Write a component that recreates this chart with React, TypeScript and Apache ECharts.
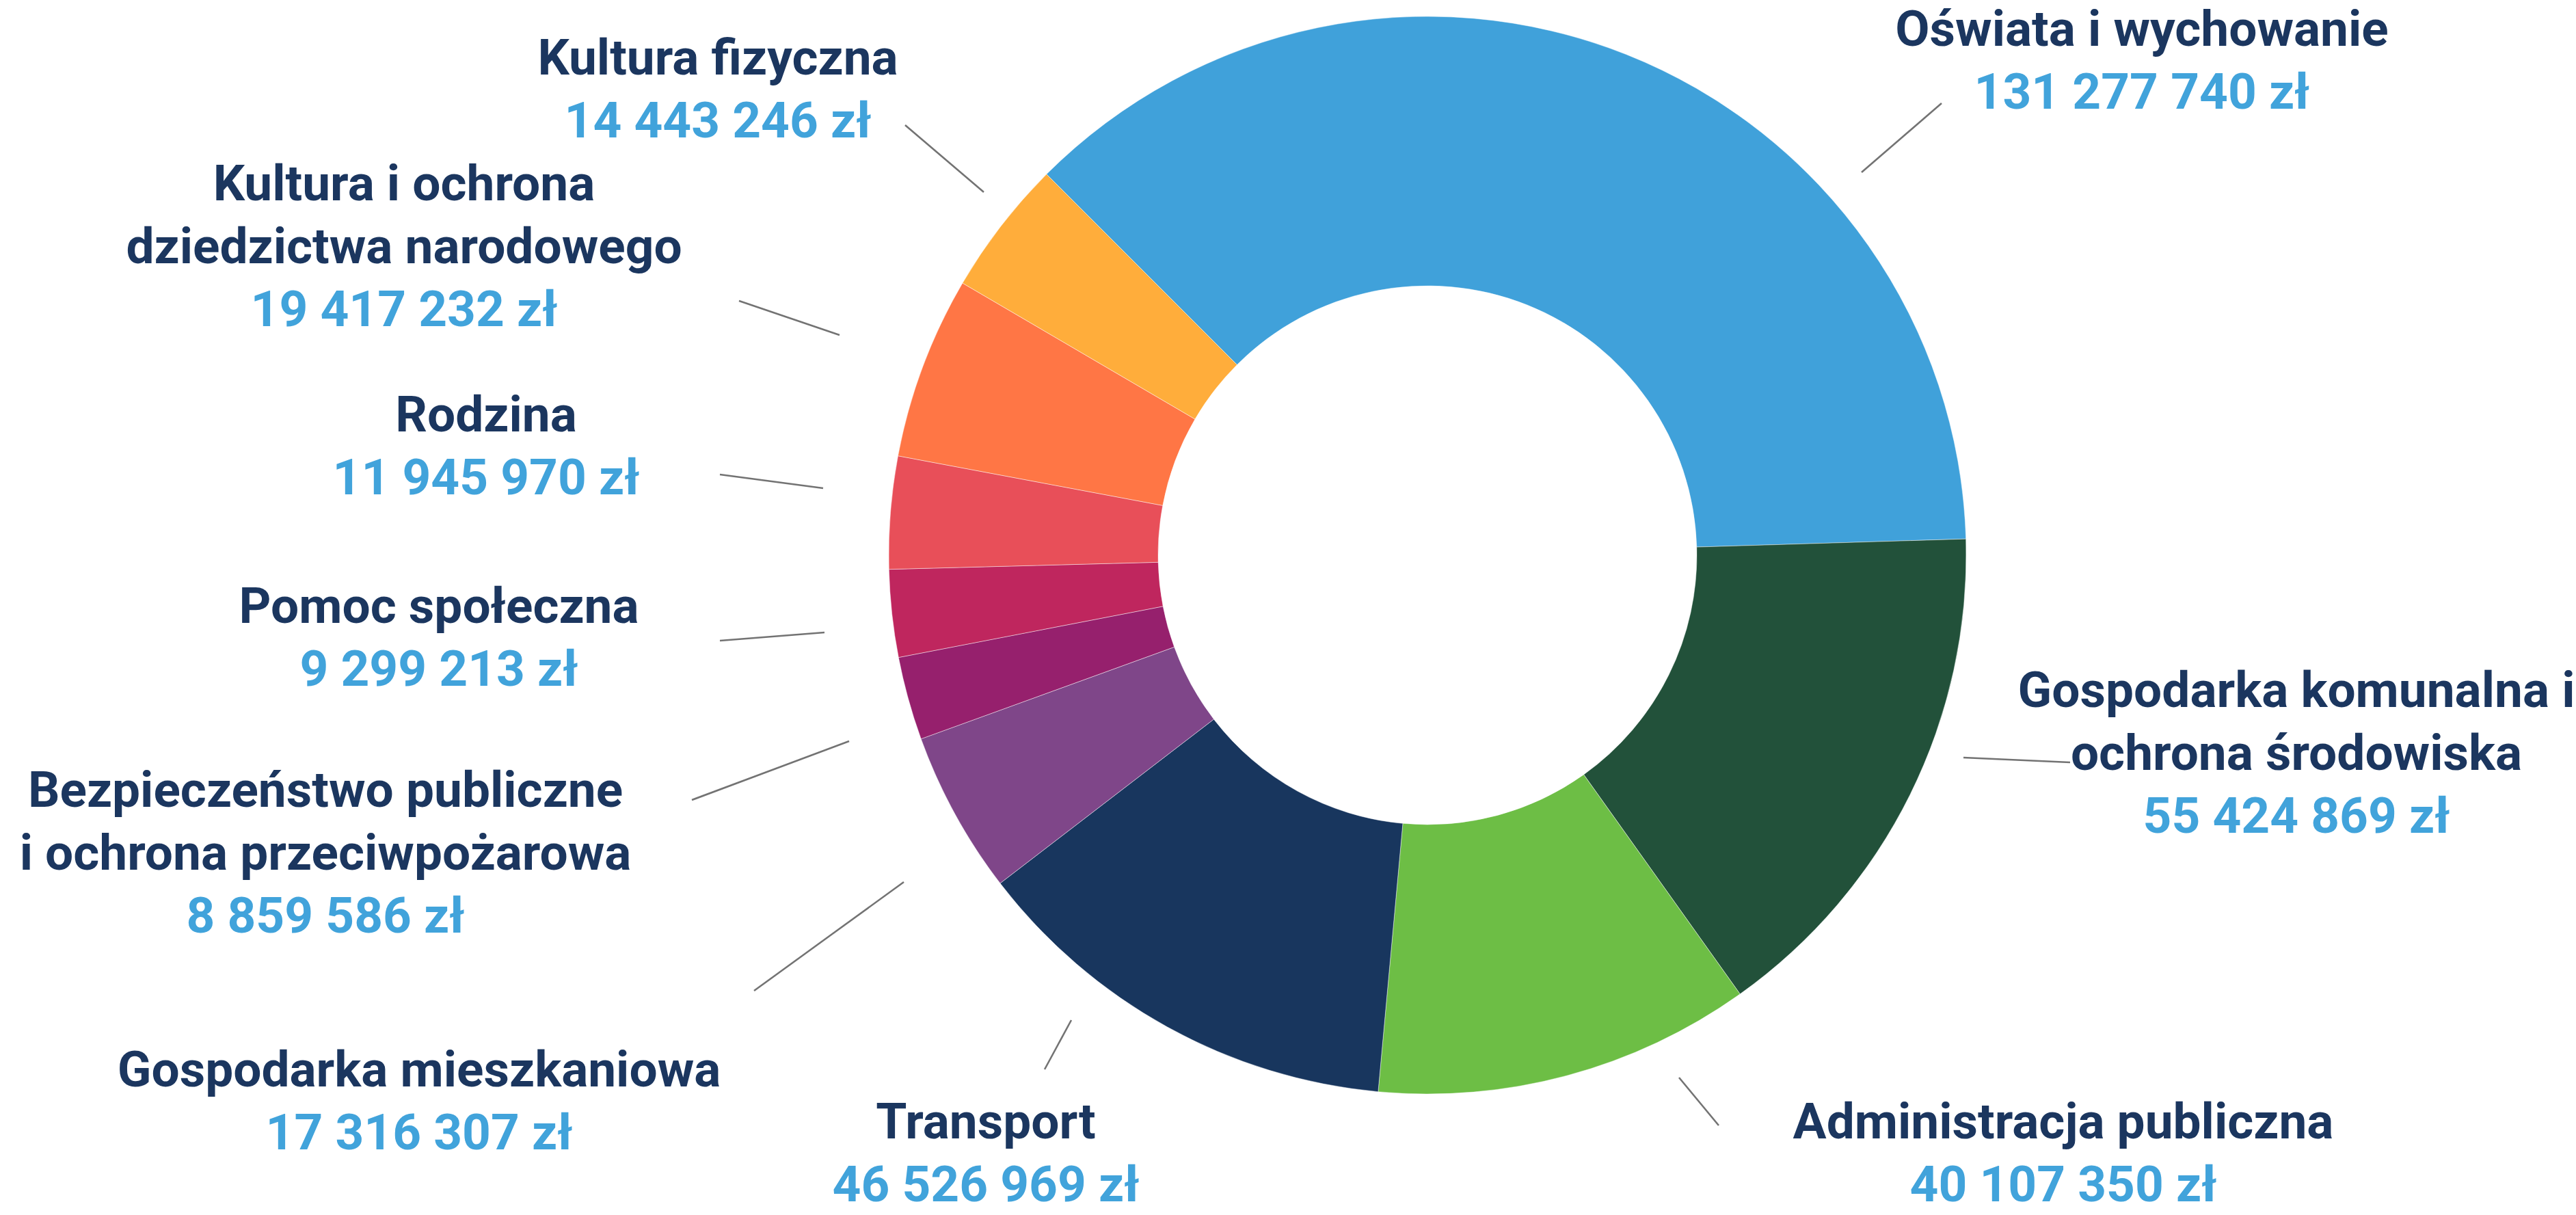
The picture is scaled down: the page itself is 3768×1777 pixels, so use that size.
import React, { useEffect, useRef } from "react";
import * as echarts from "echarts";

// ---- data ----
const categories = [
  "Oświata i wychowanie",
  "Gospodarka komunalna i\nochrona środowiska",
  "Administracja publiczna",
  "Transport",
  "Gospodarka mieszkaniowa",
  "Bezpieczeństwo publiczne\ni ochrona przeciwpożarowa",
  "Pomoc społeczna",
  "Rodzina",
  "Kultura i ochrona\ndziedzictwa narodowego",
  "Kultura fizyczna",
];
const values = [
  131277740, 55424869, 40107350, 46526969, 17316307, 8859586, 9299213, 11945970,
  19417232, 14443246,
];
const colors = [
  "#40A1DA",
  "#22513A",
  "#6DBE45",
  "#18365E",
  "#7F4689",
  "#96206D",
  "#BF265E",
  "#E84F59",
  "#FF7645",
  "#FFAD3B",
];

// ---- label layout (manual placement, chart pixel coords) ----
const labelPos: number[][] = [
  [3133, 88],
  [3359, 1101],
  [3018, 1686],
  [1442, 1686],
  [613, 1610],
  [476, 1247],
  [642, 932],
  [711, 652],
  [591, 360],
  [1050, 130],
];
const linePts: number[][][] = [
  [[2723, 252], [2840, 151]],
  [[2872, 1108], [3028, 1115]],
  [[2456, 1576], [2514, 1646]],
  [[1567, 1492], [1528, 1564]],
  [[1322, 1290], [1103, 1449]],
  [[1242, 1084], [1012, 1170]],
  [[1206, 925], [1053, 937]],
  [[1204, 714], [1053, 694]],
  [[1228, 490], [1081, 440]],
  [[1439, 281], [1324, 183]],
];

const fmt = (v: number) => String(v).replace(/\B(?=(\d{3})+(?!\d))/g, " ");

const FONT = "Roboto";
const FS = 73;
const LH = 92;

export default function App() {
  const ref = useRef<HTMLDivElement>(null);
  useEffect(() => {
    document.body.style.margin = "0";
    const chart = echarts.init(ref.current!, null, { renderer: "svg" });
    chart.setOption({
      animation: false,
      backgroundColor: "#ffffff",
      series: [
        {
          type: "pie",
          center: [2088, 812],
          radius: [394, 788],
          startAngle: 135,
          clockwise: true,
          avoidLabelOverlap: false,
          itemStyle: { borderColor: "rgba(255,255,255,0.45)", borderWidth: 1 },
          label: {
            show: true,
            position: "outside",
            align: "center",
            formatter: (p: any) => `{n|${p.name}}\n{v|${fmt(p.value)} zł}`,
            rich: {
              n: {
                color: "#1B365F",
                fontSize: FS,
                fontWeight: "bold",
                fontFamily: FONT,
                lineHeight: LH,
                align: "center",
              },
              v: {
                color: "#41A3DB",
                fontSize: FS,
                fontWeight: "bold",
                fontFamily: FONT,
                lineHeight: LH,
                align: "center",
              },
            },
          },
          labelLine: {
            show: true,
            length: 20,
            length2: 20,
            lineStyle: { color: "#737373", width: 2.6 },
          },
          labelLayout: (params: any) => {
            const i = params.dataIndex;
            const pts = linePts[i];
            const mid = [(pts[0][0] + pts[1][0]) / 2, (pts[0][1] + pts[1][1]) / 2];
            return {
              x: labelPos[i][0],
              y: labelPos[i][1],
              align: "center",
              verticalAlign: "middle",
              labelLinePoints: [pts[0], mid, pts[1]],
            };
          },
          data: categories.map((name, i) => ({
            name,
            value: values[i],
            itemStyle: { color: colors[i] },
          })),
        },
      ],
    });
    return () => chart.dispose();
  }, []);
  return (
    <div
      ref={ref}
      style={{ position: "absolute", left: 0, top: 0, width: 3768, height: 1777 }}
    />
  );
}
